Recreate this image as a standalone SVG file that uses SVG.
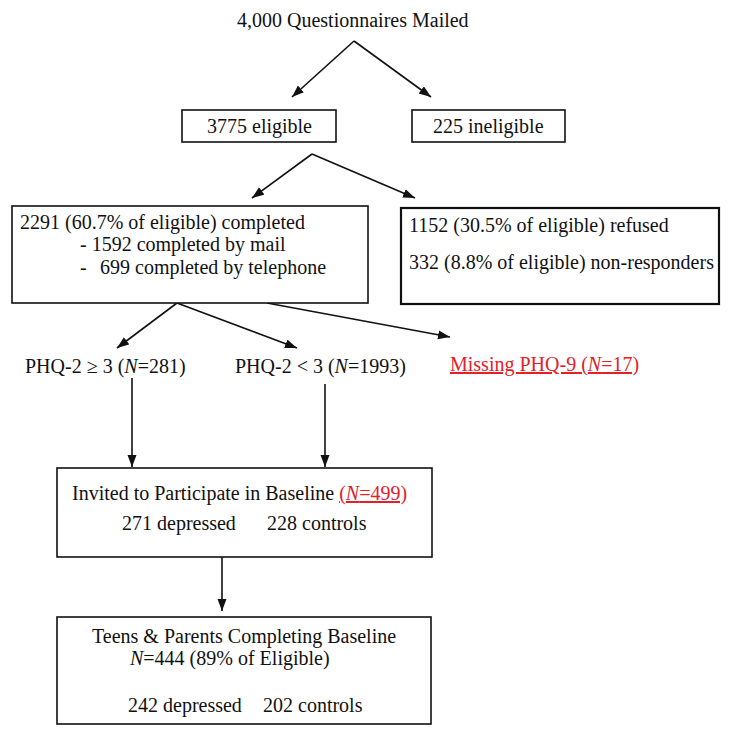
<svg xmlns="http://www.w3.org/2000/svg" width="729" height="734" viewBox="0 0 729 734">
<defs>
<style>
text{font-family:"Liberation Serif","Times New Roman",serif;font-size:20px;fill:#111}
.box{fill:#fff;stroke:#111;stroke-width:1.6}
.edge{stroke:#111;stroke-width:1.6;fill:none;marker-end:url(#ah)}
.red{fill:#e3202a;text-decoration:underline}
</style>
<marker id="ah" markerUnits="userSpaceOnUse" markerWidth="13" markerHeight="10" refX="12" refY="4.5" orient="auto">
<path d="M0,0 L12,4.5 L0,9 z" fill="#111"/>
</marker>
</defs>
<rect width="729" height="734" fill="#fff"/>
<g id="connectors">
<line class="edge" x1="354" y1="41" x2="292" y2="97"/>
<line class="edge" x1="354" y1="41" x2="431" y2="97"/>
<line class="edge" x1="312" y1="154" x2="252" y2="198"/>
<line class="edge" x1="312" y1="154" x2="415" y2="198"/>
<line class="edge" x1="177" y1="303" x2="117" y2="348"/>
<line class="edge" x1="177" y1="303" x2="297" y2="348"/>
<line class="edge" x1="267" y1="303" x2="450" y2="337"/>
<line class="edge" x1="132" y1="378" x2="132" y2="467"/>
<line class="edge" x1="325" y1="384" x2="325" y2="467"/>
<line class="edge" x1="222" y1="557" x2="222" y2="611"/>
</g>
<g id="mailed">
<text x="237" y="27">4,000 Questionnaires Mailed</text>
</g>
<g id="eligible">
<rect class="box" x="182" y="110" width="154" height="32"/>
<text x="207" y="133">3775 eligible</text>
</g>
<g id="ineligible">
<rect class="box" x="412" y="110" width="153" height="32"/>
<text x="433" y="133">225 ineligible</text>
</g>
<g id="completed">
<rect class="box" x="12" y="206" width="356" height="97"/>
<text x="20" y="229">2291 (60.7% of eligible) completed</text>
<text x="80" y="251">- 1592 completed by mail</text>
<text x="80" y="274">-</text>
<text x="100" y="274">699 completed by telephone</text>
</g>
<g id="refused">
<rect class="box" x="401" y="208" width="318" height="96" style="stroke-width:2.2"/>
<text x="409" y="232">1152 (30.5% of eligible) refused</text>
<text x="409" y="269">332 (8.8% of eligible) non-responders</text>
</g>
<g id="phq-high">
<text x="25" y="373">PHQ-2 ≥ 3 (<tspan font-style="italic">N</tspan>=281)</text>
</g>
<g id="phq-low">
<text x="235" y="373">PHQ-2 &lt; 3 (<tspan font-style="italic">N</tspan>=1993)</text>
</g>
<g id="missing">
<text x="450" y="371" class="red">Missing PHQ-9 (<tspan font-style="italic">N</tspan>=17)</text>
</g>
<g id="invited">
<rect class="box" x="57" y="468" width="375" height="89"/>
<text x="72" y="500">Invited to Participate in Baseline <tspan class="red">(<tspan font-style="italic">N</tspan>=499)</tspan></text>
<text x="122" y="530">271 depressed</text>
<text x="267" y="530">228 controls</text>
</g>
<g id="baseline">
<rect class="box" x="57" y="617" width="374" height="107"/>
<text x="92" y="643">Teens &amp; Parents Completing Baseline</text>
<text x="130" y="665"><tspan font-style="italic">N</tspan>=444 (89% of Eligible)</text>
<text x="128" y="712">242 depressed</text>
<text x="263" y="712">202 controls</text>
</g>
</svg>
